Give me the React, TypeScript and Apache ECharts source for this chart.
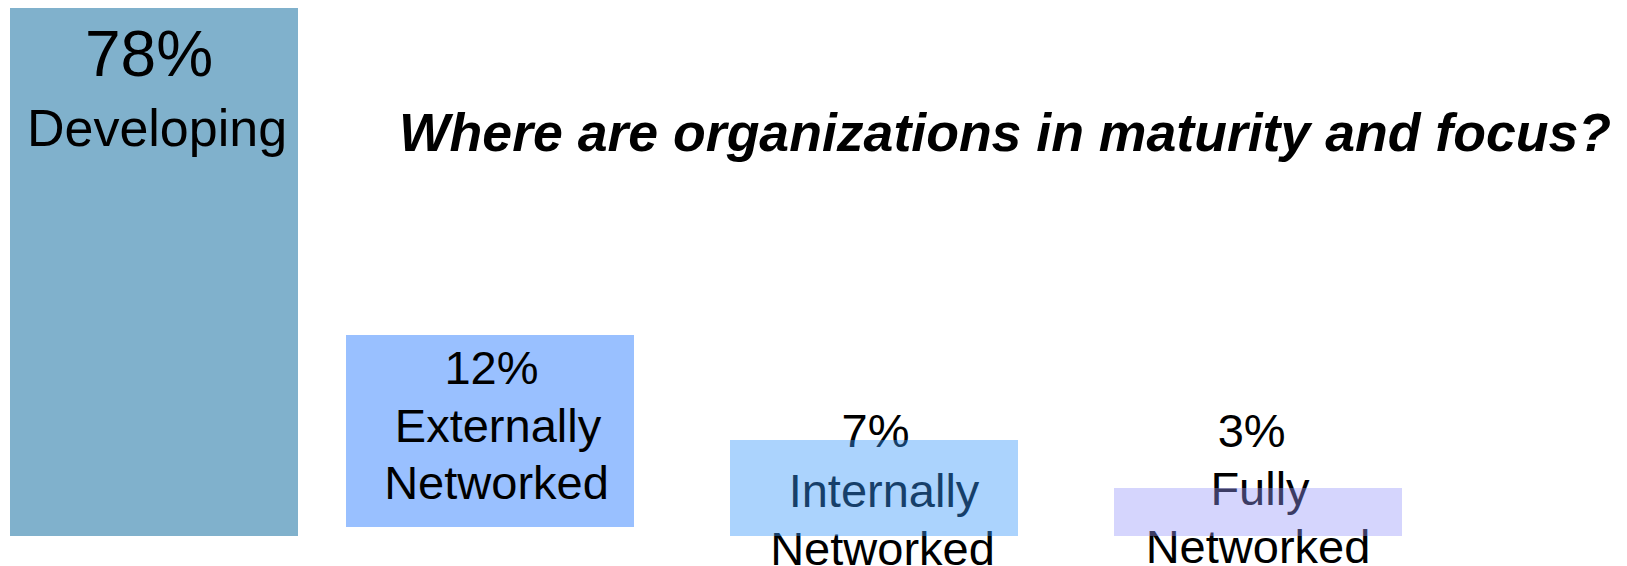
import React, { useEffect, useRef } from "react";
import * as echarts from "echarts";

// ---- data ----
const titleText = "Where are organizations in maturity and focus?";
const categories = ["Developing", "Externally Networked", "Internally Networked", "Fully Networked"];
const shares = [78, 12, 7, 3]; // percent labels
// relative bar heights as drawn in the picture (the bars are not to scale)
const barHeights = [11, 4, 2, 1];
// the second bar floats slightly above the baseline
const barLift = [0, 0.1875, 0, 0];

// ---- styles ----
const FONT = "'Liberation Sans', Arial, Helvetica, sans-serif";
const barColors = ["#80B1CC", "#99C0FF", "rgba(55,150,250,0.42)", "rgba(150,150,250,0.4)"];
// label line layout (pixel offsets relative to the top of each bar, at the category point)
const labelLayout = [
  { sizes: [64, 52], dx: [19, 27], dy: [45.8, 119.7] },
  { sizes: [47, 47, 47], dx: [-22.5, -16, -17.5], dy: [32, 90.4, 147] },
  { sizes: [47, 47, 47], dx: [-22.5, -14, -15.5], dy: [-9.6, 50.4, 108.7] },
  { sizes: [47, 47, 47], dx: [-30.3, -22, -24], dy: [-57.6, 0.7, 58.7] },
];

function labelLines(i: number): string[] {
  return [`${shares[i]}%`, ...categories[i].split(" ")];
}

function only(i: number, v: number): (number | string)[] {
  return categories.map((_, k) => (k === i ? v : "-"));
}

export default function App() {
  const ref = useRef<HTMLDivElement>(null);
  useEffect(() => {
    if (!ref.current) return;
    const chart = echarts.init(ref.current, undefined, { renderer: "svg" });
    const BAR_W = 288;
    const gap = "-116.6667%";
    chart.setOption({
      animation: false,
      tooltip: { show: false },
      title: {
        text: titleText,
        left: 394,
        top: 99.6,
        textStyle: {
          fontSize: 53.6,
          fontWeight: "bold",
          fontStyle: "italic",
          fontFamily: FONT,
          color: "#000",
        },
      },
      grid: { left: 130, right: 345, top: 8, bottom: 30, containLabel: false },
      xAxis: {
        type: "category",
        data: categories,
        boundaryGap: false,
        show: false,
      },
      yAxis: { type: "value", min: 0, max: 11, show: false, splitLine: { show: false } },
      series: [
        {
          type: "bar",
          stack: "a",
          data: only(0, barHeights[0]),
          barWidth: BAR_W,
          barGap: gap,
          itemStyle: { color: barColors[0] },
          clip: false,
          silent: true,
          z: 2,
        },
        {
          type: "bar",
          stack: "b",
          data: only(1, barLift[1]),
          barWidth: BAR_W,
          barGap: gap,
          itemStyle: { color: "rgba(0,0,0,0)" },
          clip: false,
          silent: true,
          z: 2,
        },
        {
          type: "bar",
          stack: "b",
          data: only(1, barHeights[1]),
          barWidth: BAR_W,
          barGap: gap,
          itemStyle: { color: barColors[1] },
          clip: false,
          silent: true,
          z: 2,
        },
        {
          type: "bar",
          stack: "b",
          data: categories.map((_, k) =>
            k >= 2 ? { value: barHeights[k], itemStyle: { color: barColors[k] } } : "-"
          ),
          barWidth: BAR_W,
          barGap: gap,
          clip: false,
          silent: true,
          z: 4,
        },
        {
          type: "custom",
          data: categories.map((_, i) => [i, barLift[i] + barHeights[i]]),
          clip: false,
          silent: true,
          z: 3,
          renderItem: (params: any, api: any) => {
            const i = params.dataIndex;
            const pt = api.coord([api.value(0), api.value(1)]);
            const lay = labelLayout[i];
            const lines = labelLines(i);
            return {
              type: "group",
              children: lines.map((t, k) => ({
                type: "text",
                style: {
                  text: t,
                  x: pt[0] + lay.dx[k],
                  y: pt[1] + lay.dy[k],
                  fill: "#000",
                  fontSize: lay.sizes[k],
                  fontFamily: FONT,
                  align: "center",
                  verticalAlign: "middle",
                },
              })),
            };
          },
        },
      ],
    });
    return () => chart.dispose();
  }, []);
  return (
    <div
      ref={ref}
      style={{ position: "absolute", left: 0, top: 0, width: 1627, height: 566, background: "#fff" }}
    />
  );
}
